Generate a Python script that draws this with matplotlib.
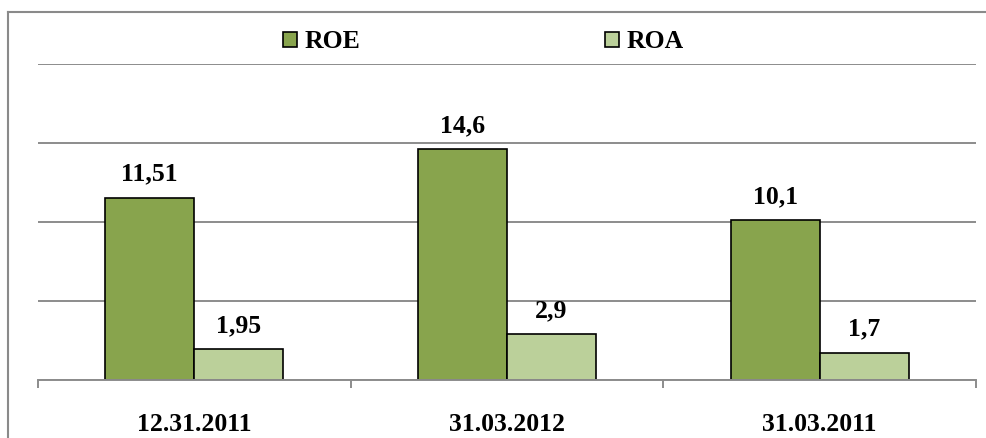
import matplotlib
matplotlib.use("Agg")
import matplotlib.pyplot as plt
from matplotlib.patches import Patch
from matplotlib.lines import Line2D
import numpy as np

categories = ["12.31.2011", "31.03.2012", "31.03.2011"]
roe = [11.51, 14.6, 10.1]
roa = [1.95, 2.9, 1.7]
roe_labels = ["11,51", "14,6", "10,1"]
roa_labels = ["1,95", "2,9", "1,7"]

FONT = "Liberation Serif"
FS = 18.5
c_roe = "#88A44D"
c_roa = "#BBD09A"
grid_c = "#8C8C8C"

W, H = 987, 438
fig = plt.figure(figsize=(W / 100, H / 100), dpi=100)
ax = fig.add_axes([38 / W, 1 - 380 / H, (976 - 38) / W, (380 - 64) / H])

x = np.arange(len(categories))
bw = 0.285
b1 = ax.bar(x - bw / 2, roe, bw, color=c_roe, edgecolor="black", linewidth=1.2, zorder=3, label="ROE")
b2 = ax.bar(x + bw / 2, roa, bw, color=c_roa, edgecolor="black", linewidth=1.2, zorder=3, label="ROA")

for rect, lab in zip(b1, roe_labels):
    ax.annotate(lab, (rect.get_x() + rect.get_width() / 2, rect.get_height()),
                xytext=(0, 12.5), textcoords="offset points", ha="center", va="baseline",
                fontfamily=FONT, fontweight="bold", fontsize=FS)
for rect, lab in zip(b2, roa_labels):
    ax.annotate(lab, (rect.get_x() + rect.get_width() / 2, rect.get_height()),
                xytext=(0, 12.5), textcoords="offset points", ha="center", va="baseline",
                fontfamily=FONT, fontweight="bold", fontsize=FS)

ax.set_xlim(-0.5, len(categories) - 0.5)
ax.set_ylim(0, 20)
ax.set_yticks([0, 5, 10, 15, 20])
ax.yaxis.grid(True, color=grid_c, linewidth=1.4, zorder=0)
ax.tick_params(axis="y", left=False, labelleft=False)
for s in ["left", "right", "top"]:
    ax.spines[s].set_visible(False)
ax.spines["bottom"].set_color(grid_c)
ax.spines["bottom"].set_linewidth(1.4)
ax.spines["bottom"].set_zorder(4)

ax.set_xticks(x)
ax.set_xticklabels(categories, fontfamily=FONT, fontweight="bold", fontsize=FS)
ax.tick_params(axis="x", which="major", length=0, pad=24)
ax.set_xticks(np.arange(-0.5, len(categories)), minor=True)
ax.tick_params(axis="x", which="minor", length=6, width=1.4, color=grid_c, direction="out")

handles = [Patch(facecolor=c_roe, edgecolor="black", linewidth=1.2, label="ROE"),
           Patch(facecolor=c_roa, edgecolor="black", linewidth=1.2, label="ROA")]
fig.legend(handles=handles, loc="center left", bbox_to_anchor=(283 / W, 1 - 42 / H),
           ncol=2, frameon=False, borderpad=0, borderaxespad=0,
           handlelength=0.55, handleheight=0.55, handletextpad=0.3, columnspacing=9.5,
           prop={"family": FONT, "weight": "bold", "size": FS})

bx, by = 8 / W, 1 - 12 / H
fig.add_artist(Line2D([bx, bx], [0, by], transform=fig.transFigure, color="#8A8A8A", linewidth=1.5))
fig.add_artist(Line2D([bx, 1.0], [by, by], transform=fig.transFigure, color="#8A8A8A", linewidth=1.5))

fig.savefig("out.png", dpi=100)
